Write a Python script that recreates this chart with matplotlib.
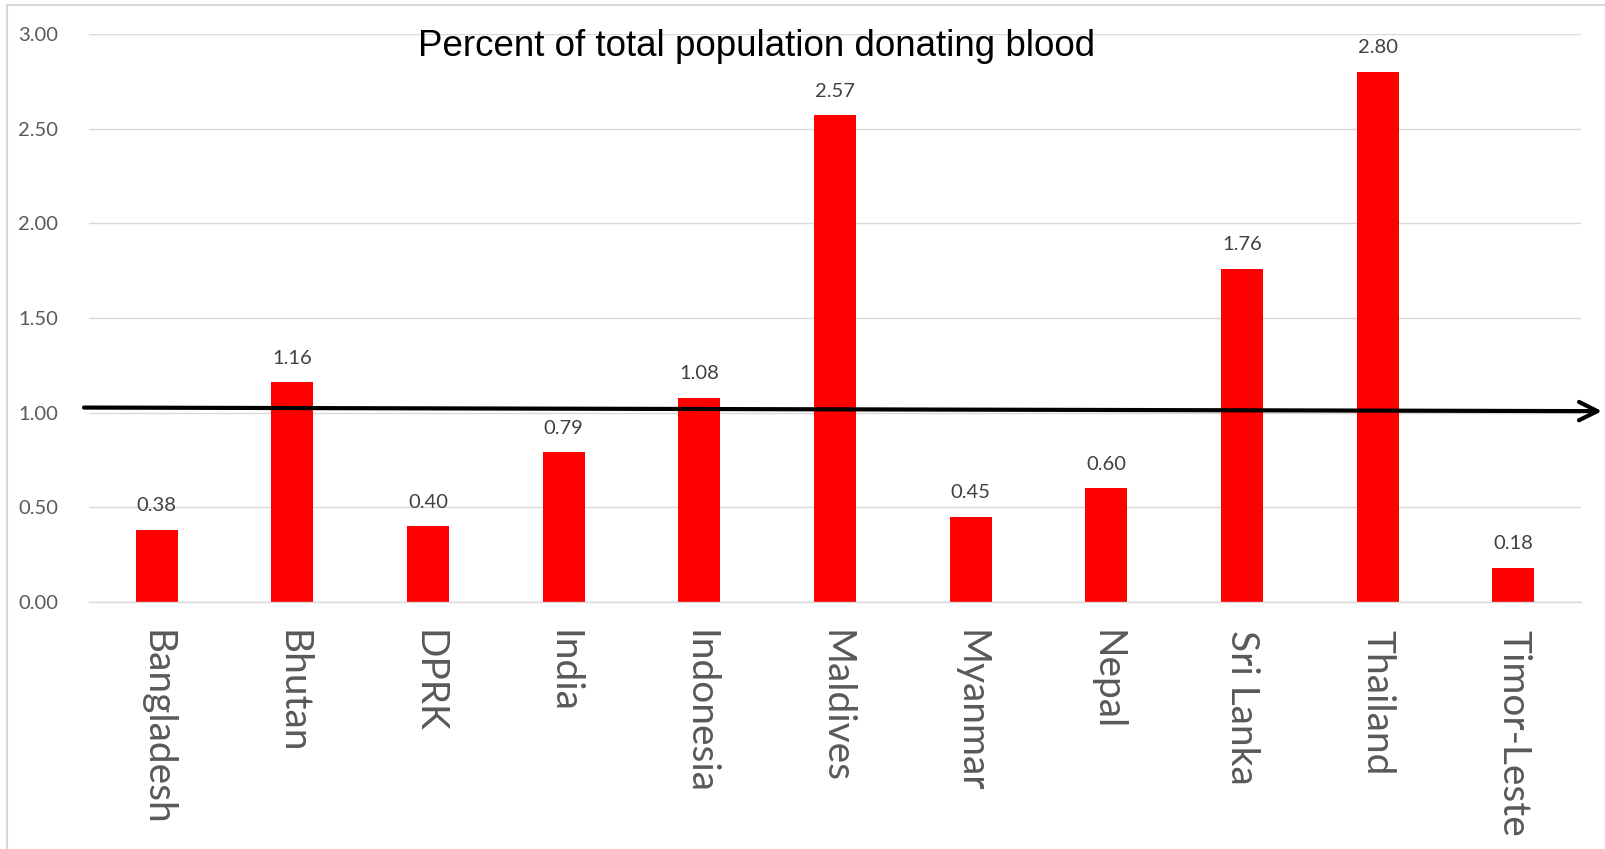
import matplotlib.pyplot as plt
from matplotlib.patches import Rectangle

# data
countries = ["Bangladesh", "Bhutan", "DPRK", "India", "Indonesia", "Maldives",
             "Myanmar", "Nepal", "Sri Lanka", "Thailand", "Timor-Leste"]
percent = [0.38, 1.16, 0.40, 0.79, 1.08, 2.57, 0.45, 0.60, 1.76, 2.80, 0.18]
yticks = [0.0, 0.5, 1.0, 1.5, 2.0, 2.5, 3.0]
# trend arrow (start/end values)
arrow_y = [1.027, 1.008]

W, H = 1606, 849
fig = plt.figure(figsize=(W / 100, H / 100), dpi=100)
ax = fig.add_axes([89 / W, 1 - 602 / H, (1581 - 89) / W, (602 - 34) / H])

x = list(range(len(countries)))
ax.bar(x, percent, width=0.31, color="#ff0000", zorder=2)

# value labels above bars
for xi, v in zip(x, percent):
    ax.annotate("{:.2f}".format(v), (xi, v), xytext=(0, 13.5), textcoords="offset points",
                ha="center", va="baseline", fontsize=14.5, family="Lato", color="#404040")

ax.set_xlim(-0.5, len(countries) - 0.5)
ax.set_ylim(0, 3)
ax.set_yticks(yticks)
ax.set_yticklabels(["{:.2f}".format(t) for t in yticks], fontsize=14.5, family="Lato", color="#595959")
ax.set_xticks(x)
ax.set_xticklabels(countries, rotation=-90, fontsize=28, family="Lato", color="#595959",
                   ha="center", va="top")
ax.tick_params(axis="y", length=0, pad=22)
ax.tick_params(axis="x", length=0, pad=20)

ax.grid(axis="y", color="#d9d9d9", linewidth=1.0, zorder=0)
ax.set_axisbelow(True)
for s in ["top", "right", "left"]:
    ax.spines[s].set_visible(False)
ax.spines["bottom"].set_color("#d9d9d9")
ax.spines["bottom"].set_linewidth(1.0)

# arrow across the chart
x0 = -0.5 - 5 / 135.6
x1 = 10.5 + 21 / 135.6
ax.annotate("", xy=(x1, arrow_y[1]), xytext=(x0, arrow_y[0]),
            arrowprops=dict(arrowstyle="->,head_length=0.6,head_width=0.3", color="black",
                            lw=3, mutation_scale=22, shrinkA=0, shrinkB=0),
            annotation_clip=False, zorder=5)

fig.text(757 / W, 1 - 56 / H, "Percent of total population donating blood", ha="center",
         va="baseline", fontsize=26.5, family="Liberation Sans", color="black")

# chart area border (left/top visible)
fig.patches.append(Rectangle((7 / W, -0.1), 1.2, 1 - 5 / H + 0.1, transform=fig.transFigure,
                             fill=False, edgecolor="#d9d9d9", linewidth=1.5))

fig.savefig("out.png", dpi=100)
